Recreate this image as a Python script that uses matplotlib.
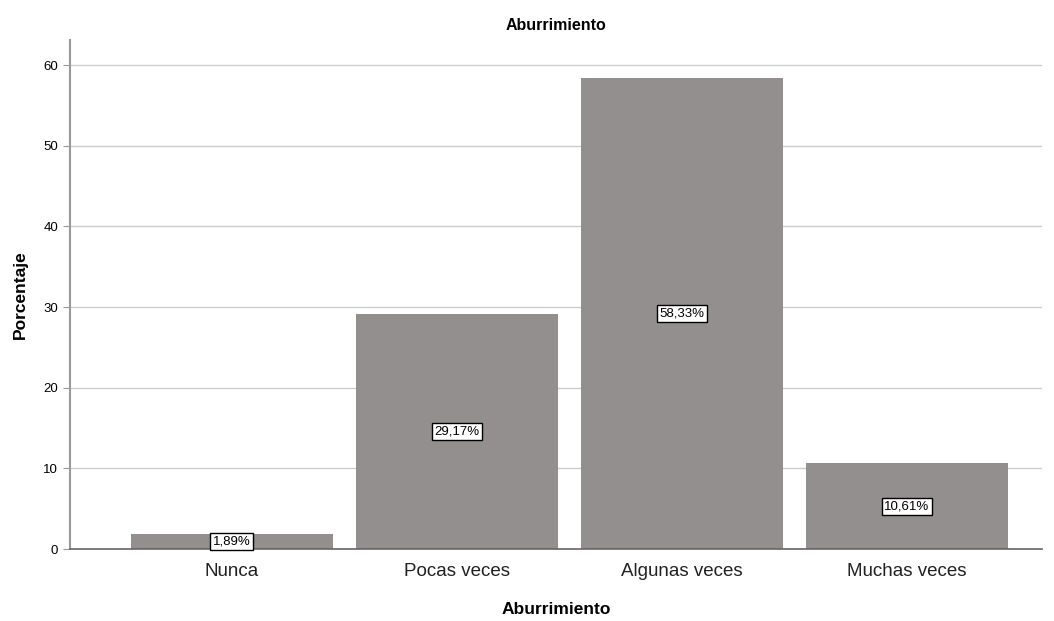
import numpy as np
import matplotlib.pyplot as plt

plt.rcParams['font.family'] = ['Liberation Sans', 'DejaVu Sans']

categorias = ['Nunca', 'Pocas veces', 'Algunas veces', 'Muchas veces']
porcentajes = [1.89, 29.17, 58.33, 10.61]
etiquetas = ['1,89%', '29,17%', '58,33%', '10,61%']

fig = plt.figure(figsize=(10.54, 6.21), dpi=100)
ax = fig.add_axes([0.0664, 0.1159, 0.9222, 0.8197])

x = np.arange(len(categorias))
ax.bar(x, porcentajes, width=0.895, color='#938f8e', zorder=2)

for xi, v, t in zip(x, porcentajes, etiquetas):
    ax.text(xi, v / 2, t, ha='center', va='center', fontsize=9.5, zorder=3,
            bbox=dict(boxstyle='square,pad=0.2', fc='white', ec='black', lw=1))

ax.set_xlim(-0.72, 3.60)
ax.set_ylim(0, 63.1)
ax.set_yticks(np.arange(0, 61, 10))
ax.set_xticks(x)
ax.set_xticklabels(categorias, fontsize=13.5, color='#222222')
ax.tick_params(axis='y', labelsize=9.5, length=5, color='#999999')
ax.tick_params(axis='x', length=0, pad=10)
ax.yaxis.grid(True, color='#cccccc', lw=1, zorder=0)

for s in ['top', 'right']:
    ax.spines[s].set_visible(False)
ax.spines['left'].set_color('#999999')
ax.spines['left'].set_linewidth(1.5)
ax.spines['bottom'].set_color('#666666')
ax.spines['bottom'].set_linewidth(1.2)

ax.set_title('Aburrimiento', fontsize=11.5, fontweight='bold', pad=7)
ax.set_xlabel('Aburrimiento', fontsize=12.5, fontweight='bold', labelpad=16)
ax.set_ylabel('Porcentaje', fontsize=12.5, fontweight='bold', labelpad=11)

fig.savefig('out.png', dpi=100)
